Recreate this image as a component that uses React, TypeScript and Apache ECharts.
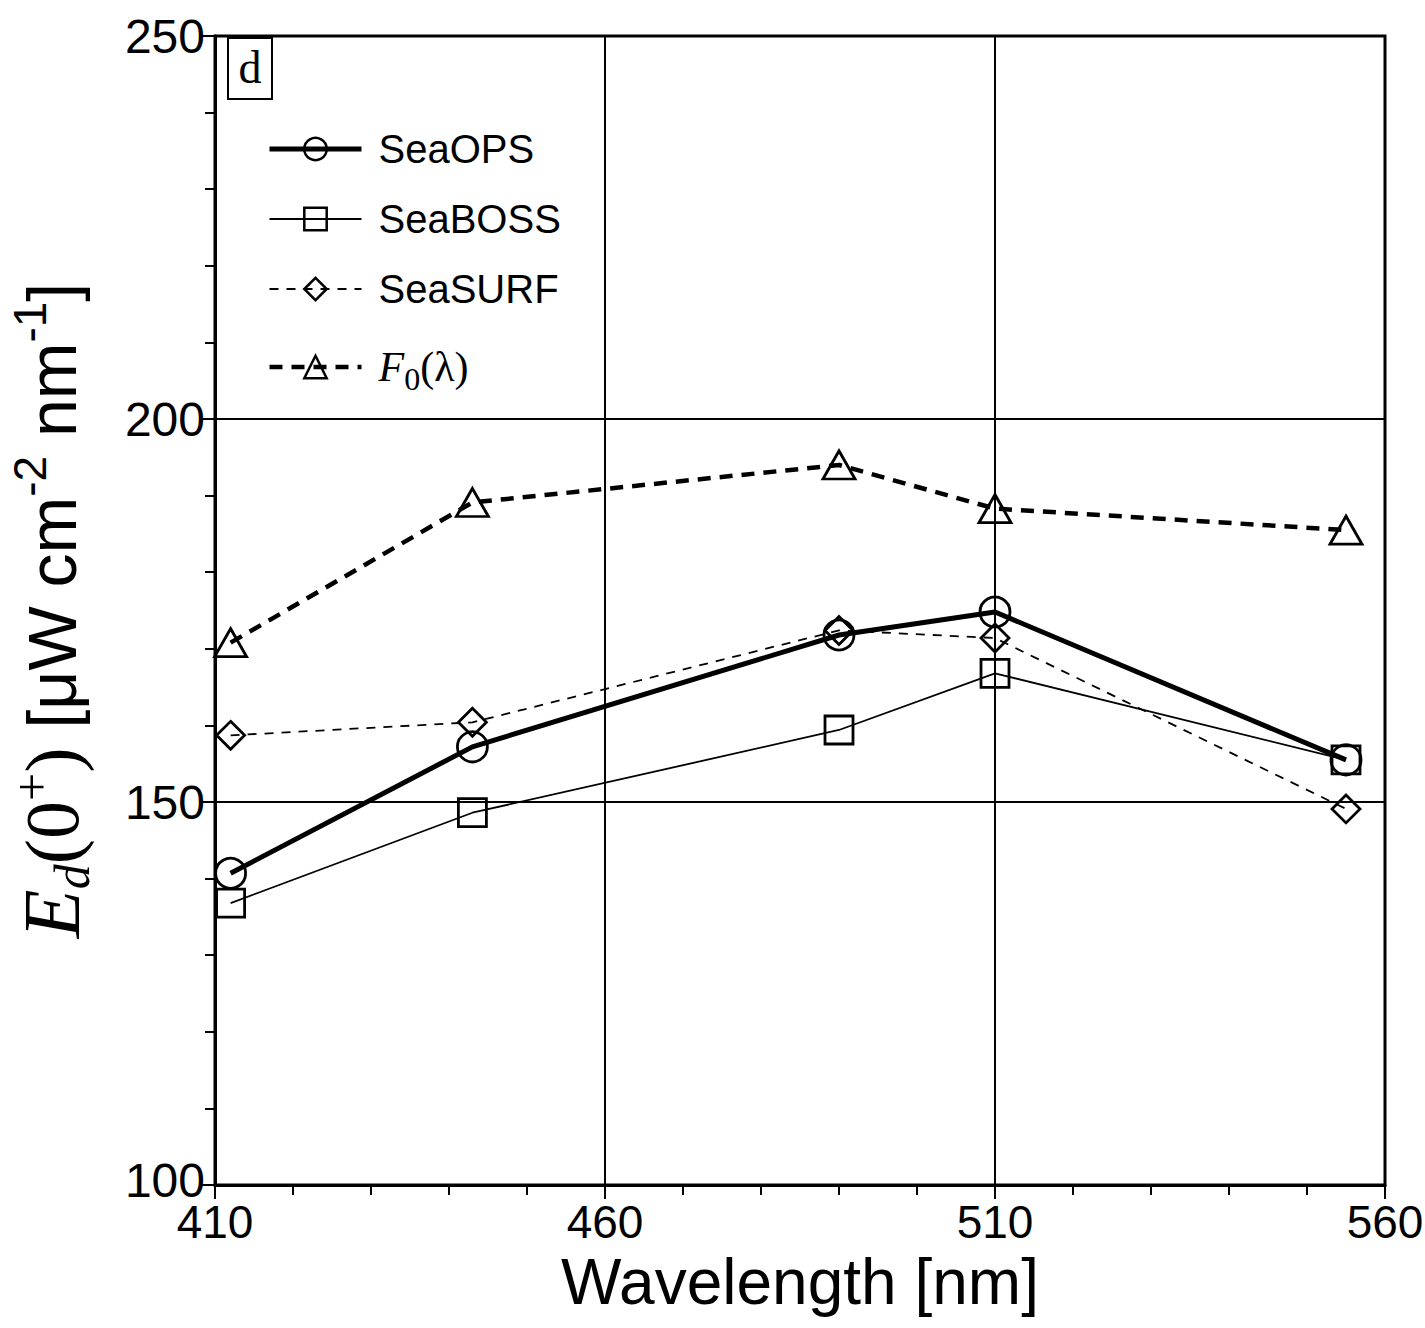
import React, { useEffect, useRef } from "react";
import * as echarts from "echarts";

const wavelengths = [412, 443, 490, 510, 555];
const seaOPS = [140.7, 157.2, 171.8, 174.8, 155.5];
const seaBOSS = [136.8, 148.6, 159.4, 166.8, 155.5];
const seaSURF = [158.7, 160.4, 172.4, 171.4, 149.1];
const f0 = [170.8, 189.1, 194.0, 188.3, 185.5];
const seriesNames = ["SeaOPS", "SeaBOSS", "SeaSURF", "F0(λ)"];
const xTicks = { min: 410, max: 560, interval: 50 };
const yTicks = { min: 100, max: 250, interval: 50 };

const SANS = "Liberation Sans, Arial, Helvetica, sans-serif";
const SERIF = "Liberation Serif, Times New Roman, serif";

function pairs(vals: number[]) {
  return wavelengths.map((w, i) => [w, vals[i]]);
}

const lineStyles: any[] = [
  { color: "#000", width: 5 },
  { color: "#000", width: 1.8 },
  { color: "#000", width: 1.8, type: [9, 8] },
  { color: "#000", width: 4.5, type: [13, 9] },
];

export default function App() {
  const ref = useRef<HTMLDivElement>(null);
  useEffect(() => {
    document.body.style.margin = "0";
    const chart = echarts.init(ref.current!, undefined, { renderer: "svg" });
    const markerStyle = {
      color: "rgba(0,0,0,0)",
      borderColor: "#000",
      borderWidth: 2.8,
    };
    chart.setOption({
      animation: false,
      backgroundColor: "#fff",
      grid: {
        left: 215,
        right: 40,
        top: 36,
        bottom: 143,
        show: true,
        borderColor: "#000",
        borderWidth: 3,
        backgroundColor: "transparent",
        containLabel: false,
        outerBoundsMode: "none",
      },
      legend: {
        orient: "vertical",
        left: 262,
        top: 124,
        itemWidth: 92,
        itemHeight: 28,
        itemGap: 30,
        data: seriesNames.map((n, i) => ({
          name: n,
          lineStyle: lineStyles[i],
          itemStyle: { color: "rgba(0,0,0,0)", borderColor: "#000", borderWidth: 2.5 },
        })),
        formatter: (name: string) =>
          name === "F0(λ)" ? "{fi|F}{fs|0}{fn|(λ)}" : name,
        textStyle: {
          fontFamily: SANS,
          fontSize: 40,
          lineHeight: 40,
          color: "#000",
          padding: [0, 0, 0, 12],
          rich: {
            fi: { fontFamily: SERIF, fontStyle: "italic", fontSize: 42, lineHeight: 40, color: "#000" },
            fs: { fontFamily: SERIF, fontSize: 32, lineHeight: 4, padding: [24, 0, 0, 0], color: "#000" },
            fn: { fontFamily: SERIF, fontSize: 42, lineHeight: 40, color: "#000" },
          },
        },
      },
      xAxis: {
        type: "value",
        min: xTicks.min,
        max: xTicks.max,
        interval: xTicks.interval,
        name: "Wavelength [nm]",
        nameLocation: "middle",
        nameGap: 36,
        nameTextStyle: { fontFamily: SANS, fontSize: 64, color: "#000" },
        axisLine: { show: true, onZero: false, lineStyle: { color: "#000", width: 3 } },
        axisTick: { show: true, length: 14, lineStyle: { color: "#000", width: 2 } },
        minorTick: { show: true, splitNumber: 5, length: 10, lineStyle: { color: "#000", width: 2 } },
        axisLabel: { fontFamily: SANS, fontSize: 46, lineHeight: 34, color: "#000", margin: 20 },
        splitLine: { show: true, lineStyle: { color: "#000", width: 2 } },
      },
      yAxis: {
        type: "value",
        min: yTicks.min,
        max: yTicks.max,
        interval: yTicks.interval,
        name:
          "{e|E}{d|d}{p|(0}{sp|+}{p|)}{s| [μW cm}{ss|-2}{s| nm}{ss|-1}{s|]}",
        nameLocation: "middle",
        nameGap: 118,
        nameRotate: 90,
        nameTextStyle: {
          color: "#000",
          rich: {
            e: { fontFamily: SERIF, fontStyle: "italic", fontSize: 80, lineHeight: 90, color: "#000" },
            d: { fontFamily: SERIF, fontStyle: "italic", fontSize: 50, lineHeight: 44, verticalAlign: "bottom", color: "#000" },
            p: { fontFamily: SERIF, fontSize: 76, lineHeight: 90, color: "#000" },
            sp: { fontFamily: SERIF, fontSize: 50, lineHeight: 44, verticalAlign: "top", color: "#000" },
            s: { fontFamily: SANS, fontSize: 68, lineHeight: 90, color: "#000" },
            ss: { fontFamily: SANS, fontSize: 46, lineHeight: 48, verticalAlign: "top", color: "#000" },
          },
        },
        axisLine: { show: true, onZero: false, lineStyle: { color: "#000", width: 3 } },
        axisTick: { show: true, length: 14, lineStyle: { color: "#000", width: 2 } },
        minorTick: { show: true, splitNumber: 5, length: 10, lineStyle: { color: "#000", width: 2 } },
        axisLabel: {
          fontFamily: SANS,
          fontSize: 48,
          lineHeight: 32,
          color: "#000",
          margin: 10,
          formatter: (v: number) => (v === yTicks.min ? "{lo|" + v + "}" : String(v)),
          rich: {
            lo: { fontFamily: SANS, fontSize: 48, lineHeight: 32, padding: [0, 0, 10, 0], color: "#000" },
          },
        },
        splitLine: { show: true, lineStyle: { color: "#000", width: 2 } },
      },
      series: [
        {
          name: "SeaOPS",
          type: "line",
          z: 5,
          data: pairs(seaOPS),
          symbol: "circle",
          symbolSize: 30,
          itemStyle: markerStyle,
          lineStyle: lineStyles[0],
        },
        {
          name: "SeaBOSS",
          type: "line",
          z: 4,
          data: pairs(seaBOSS),
          symbol: "rect",
          symbolSize: 28,
          itemStyle: markerStyle,
          lineStyle: lineStyles[1],
        },
        {
          name: "SeaSURF",
          type: "line",
          z: 3,
          data: pairs(seaSURF),
          symbol: "diamond",
          symbolSize: [28, 28],
          itemStyle: markerStyle,
          lineStyle: lineStyles[2],
        },
        {
          name: "F0(λ)",
          type: "line",
          z: 2,
          data: pairs(f0),
          symbol: "triangle",
          symbolSize: [32, 28],
          itemStyle: markerStyle,
          lineStyle: lineStyles[3],
        },
      ],
      graphic: [
        {
          type: "rect",
          z: 100,
          shape: { x: 228, y: 38, width: 44, height: 61 },
          style: { fill: "#fff", stroke: "#000", lineWidth: 2 },
        },
        {
          type: "text",
          z: 101,
          x: 250,
          y: 67,
          style: {
            text: "d",
            fontFamily: SERIF,
            fontSize: 46,
            fill: "#000",
            align: "center",
            verticalAlign: "middle",
          },
        },
      ],
    });
    return () => chart.dispose();
  }, []);
  return <div ref={ref} style={{ width: 1425, height: 1328 }} />;
}
